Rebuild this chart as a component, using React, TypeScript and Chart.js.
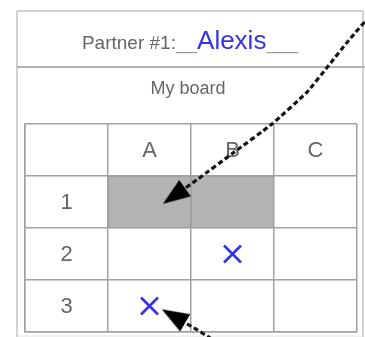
import React, { useEffect, useRef } from "react";
import { Chart, registerables } from "chart.js";

Chart.register(...registerables);

// ---- data ----
const partnerLabel = "Partner #1:";
const partnerName = "Alexis";
const boardTitle = "My board";
const columnLabels = ["", "A", "B", "C"];
const rowLabels = ["1", "2", "3"];
// shaded cells: [column, row]
const shadedCells: [string, number][] = [
  ["A", 1],
  ["B", 1],
];
// marked cells: [column, row]
const markedCells: [string, number][] = [
  ["B", 2],
  ["A", 3],
];
// arrow paths in board units (column units, row units)
const arrowTopX = [4.217, 3.904, 3.663, 3.398, 2.976, 2.506, 2.084, 1.795];
const arrowTopY = [-2.192, -1.615, -1.135, -0.615, 0.0, 0.558, 1.058, 1.385];
const arrowBottomX = [2.41, 2.079, 1.789];
const arrowBottomY = [4.3, 3.962, 3.694];

const GRID = "#a2a2a2";
const TEXT_GRAY = "#666666";
const BLUE = "#3434e4";

function colIndex(c: string) {
  return columnLabels.indexOf(c);
}

function makeHead() {
  const c = document.createElement("canvas");
  c.width = 20;
  c.height = 27;
  const g = c.getContext("2d")!;
  g.fillStyle = "#000";
  g.beginPath();
  g.moveTo(10, 0);
  g.lineTo(20, 27);
  g.lineTo(0, 27);
  g.closePath();
  g.fill();
  return c;
}

const framePlugin = {
  id: "frame",
  beforeDraw(chart: any) {
    const ctx = chart.ctx;
    ctx.save();
    ctx.strokeStyle = "#c4c4c4";
    ctx.lineWidth = 1.5;
    ctx.beginPath();
    ctx.moveTo(17, 337);
    ctx.lineTo(17, 11);
    ctx.lineTo(363, 11);
    ctx.lineTo(363, 337);
    ctx.stroke();
    ctx.strokeStyle = "#b4b4b4";
    ctx.lineWidth = 2;
    ctx.beginPath();
    ctx.moveTo(17, 67);
    ctx.lineTo(365, 67);
    ctx.stroke();
    ctx.strokeStyle = "#e4e4e4";
    ctx.lineWidth = 1;
    ctx.beginPath();
    ctx.moveTo(17, 336);
    ctx.lineTo(363, 336);
    ctx.stroke();

    // header texts
    const parts = [
      { t: partnerLabel, f: "19px 'Liberation Sans'", c: TEXT_GRAY },
      { t: "__", f: "19px 'Liberation Sans'", c: "#9a9a9a" },
      { t: partnerName, f: "26px 'Liberation Sans'", c: BLUE },
      { t: "___", f: "19px 'Liberation Sans'", c: "#9a9a9a" },
    ];
    let total = 0;
    const widths = parts.map((p) => {
      ctx.font = p.f;
      const w = ctx.measureText(p.t).width;
      total += w;
      return w;
    });
    let x = 190 - total / 2;
    ctx.textBaseline = "alphabetic";
    ctx.textAlign = "left";
    parts.forEach((p, i) => {
      ctx.font = p.f;
      ctx.fillStyle = p.c;
      ctx.fillText(p.t, x, 49);
      x += widths[i];
    });
    ctx.font = "18px 'Liberation Sans'";
    ctx.fillStyle = TEXT_GRAY;
    ctx.textAlign = "center";
    ctx.fillText(boardTitle, 188, 94);
    ctx.restore();
  },
  beforeDatasetsDraw(chart: any) {
    const ctx = chart.ctx;
    const sx = chart.scales.x;
    const sy = chart.scales.y;
    ctx.save();
    ctx.font = "22px 'Liberation Sans'";
    ctx.fillStyle = TEXT_GRAY;
    ctx.textAlign = "center";
    ctx.textBaseline = "middle";
    columnLabels.forEach((c, i) => {
      if (!c) return;
      ctx.fillText(c, sx.getPixelForValue(i + 0.5), sy.getPixelForValue(0.5) + 1);
    });
    rowLabels.forEach((r, i) => {
      ctx.fillText(r, sx.getPixelForValue(0.5), sy.getPixelForValue(i + 1.5) + 1);
    });
    ctx.restore();
  },
};

export default function App() {
  const ref = useRef<HTMLCanvasElement | null>(null);
  useEffect(() => {
    if (!ref.current) return;
    const head = makeHead();
    const topPath = arrowTopX.map((x, i) => ({ x, y: arrowTopY[i] }));
    const bottomPath = arrowBottomX.map((x, i) => ({ x, y: arrowBottomY[i] }));
    const paths = [topPath, bottomPath];
    const lineDs = (data: any[]) => ({
      type: "line" as const,
      data,
      borderColor: "#151515",
      borderWidth: 3.2,
      borderDash: [5, 3],
      pointRadius: 0,
      tension: 0.15,
      fill: false,
      clip: false as any,
      order: 1,
    });
    const chart = new Chart(ref.current, {
      type: "scatter",
      data: {
        datasets: [
          {
            type: "bar",
            data: shadedCells.map(([c, r]) => ({ x: colIndex(c) + 0.5, y: [r, r + 1] })) as any,
            backgroundColor: "#b3b3b3",
            borderColor: GRID,
            borderWidth: 1.5,
            borderSkipped: false,
            barPercentage: 1,
            categoryPercentage: 1,
            order: 3,
          } as any,
          {
            type: "scatter",
            data: markedCells.map(([c, r]) => ({ x: colIndex(c) + 0.5, y: r + 0.5 })),
            pointStyle: "crossRot",
            pointRadius: 12,
            pointBorderWidth: 2.6,
            pointBorderColor: BLUE,
            pointBackgroundColor: BLUE,
            order: 2,
          } as any,
          lineDs(topPath) as any,
          lineDs(bottomPath) as any,
          {
            type: "scatter",
            data: paths.map((p) => p[p.length - 1]),
            pointStyle: head,
            pointRadius: 10,
            pointRotation: (ctx: any) => {
              const p = paths[ctx.dataIndex];
              if (!p) return 0;
              const a = p[p.length - 2];
              const b = p[p.length - 1];
              const sx = ctx.chart.scales.x;
              const sy = ctx.chart.scales.y;
              const dx = sx.getPixelForValue(b.x) - sx.getPixelForValue(a.x);
              const dy = sy.getPixelForValue(b.y) - sy.getPixelForValue(a.y);
              return (Math.atan2(dy, dx) * 180) / Math.PI + 90;
            },
            order: 0,
          } as any,
        ],
      },
      options: {
        animation: false,
        responsive: false,
        events: [],
        layout: { autoPadding: false, padding: { left: 25, top: 124, right: 8, bottom: 5 } },
        plugins: { legend: { display: false }, tooltip: { enabled: false } },
        scales: {
          x: {
            type: "linear",
            min: 0,
            max: 4,
            offset: false,
            ticks: { display: false, stepSize: 1 },
            grid: { color: GRID, lineWidth: 1.5, drawTicks: false, offset: false },
            border: { display: true, color: GRID, width: 1.5 },
          },
          y: {
            type: "linear",
            min: 0,
            max: 4,
            reverse: true,
            ticks: { display: false, stepSize: 1 },
            grid: { color: GRID, lineWidth: 1.5, drawTicks: false },
            border: { display: true, color: GRID, width: 1.5 },
          },
        },
      },
      plugins: [framePlugin],
    });
    return () => chart.destroy();
  }, []);
  return (
    <div style={{ position: "absolute", left: 0, top: 0, width: 365, height: 337, background: "#fff" }}>
      <canvas ref={ref} width={365} height={337} style={{ display: "block" }} />
    </div>
  );
}
